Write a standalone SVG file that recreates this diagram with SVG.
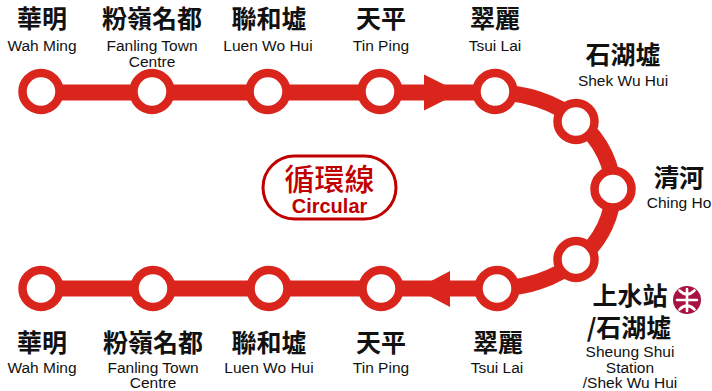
<svg xmlns="http://www.w3.org/2000/svg" width="712" height="391" viewBox="0 0 712 391">
<style>
.line{fill:none;stroke:#da251d;stroke-width:16}
.arrow{fill:#da251d}
.stn{fill:#fff;stroke:#da251d;stroke-width:8.5}
.zh{font-family:"Noto Sans CJK TC","Noto Sans CJK SC",sans-serif;font-weight:bold;font-size:25px;fill:#111;text-anchor:middle}
.en{font-family:"Liberation Sans",Arial,sans-serif;font-size:15.5px;fill:#111;text-anchor:middle}
</style>
<rect width="712" height="391" fill="#fff"/>
<g id="connectors">
<path class="line" d="M41,92.5 H495 A118,98 0 0 1 495,288.5 H41"/>
<polygon class="arrow" points="424,74.5 460,92.5 424,110.5"/>
<polygon class="arrow" points="450,271 416,289 450,307"/>
</g>
<g id="legend">
<rect x="263" y="156" width="133" height="63" rx="31.5" fill="#fff" stroke="#c00000" stroke-width="3"/>
<text x="329.5" y="190" font-family="'Noto Sans CJK TC','Noto Sans CJK SC',sans-serif" font-weight="500" font-size="30" fill="#c00000" text-anchor="middle">循環線</text>
<text x="329.5" y="213" font-family="'Liberation Sans',Arial,sans-serif" font-weight="bold" font-size="20" fill="#c00000" text-anchor="middle">Circular</text>
</g>
<g id="wah-ming-top"><circle class="stn" cx="41" cy="91.5" r="18.5"/><text class="zh" x="42" y="28">華明</text><text class="en" x="42" y="51">Wah Ming</text></g>
<g id="fanling-top"><circle class="stn" cx="152" cy="91.5" r="18.5"/><text class="zh" x="152" y="28">粉嶺名都</text><text class="en" x="152" y="51">Fanling Town</text><text class="en" x="152" y="67">Centre</text></g>
<g id="luen-wo-top"><circle class="stn" cx="268" cy="91.5" r="18.5"/><text class="zh" x="269" y="28">聯和墟</text><text class="en" x="268" y="51">Luen Wo Hui</text></g>
<g id="tin-ping-top"><circle class="stn" cx="380" cy="91.5" r="18.5"/><text class="zh" x="381" y="28">天平</text><text class="en" x="381" y="51">Tin Ping</text></g>
<g id="tsui-lai-top"><circle class="stn" cx="495" cy="91.5" r="18.5"/><text class="zh" x="495" y="28">翠麗</text><text class="en" x="495" y="51">Tsui Lai</text></g>
<g id="shek-wu-hui"><circle class="stn" cx="576" cy="121.5" r="18.5"/><text class="zh" x="623" y="64">石湖墟</text><text class="en" x="623" y="86">Shek Wu Hui</text></g>
<g id="ching-ho"><circle class="stn" cx="613" cy="189" r="18.5"/><text class="zh" x="679" y="187">清河</text><text class="en" x="679" y="208">Ching Ho</text></g>
<g id="sheung-shui"><circle class="stn" cx="576" cy="259.5" r="18.5"/>
<text class="zh" x="630" y="305">上水站</text>
<g id="mtr-logo"><circle cx="687" cy="300" r="14" fill="#a8133f"/>
<path d="M687,289 V311 M677,300 H697 M679.5,290.5 Q687,298 694.5,290.5 M679.5,309.5 Q687,302 694.5,309.5" fill="none" stroke="#fff" stroke-width="2.6" stroke-linecap="round"/></g>
<text class="zh" x="629" y="337">/石湖墟</text><text class="en" x="630" y="357">Sheung Shui</text><text class="en" x="630" y="373">Station</text><text class="en" x="630" y="388">/Shek Wu Hui</text></g>
<g id="tsui-lai-bottom"><circle class="stn" cx="497" cy="288.5" r="18.5"/><text class="zh" x="498" y="352">翠麗</text><text class="en" x="497" y="373">Tsui Lai</text></g>
<g id="tin-ping-bottom"><circle class="stn" cx="381" cy="288.5" r="18.5"/><text class="zh" x="381" y="352">天平</text><text class="en" x="381" y="373">Tin Ping</text></g>
<g id="luen-wo-bottom"><circle class="stn" cx="269" cy="288.5" r="18.5"/><text class="zh" x="269" y="352">聯和墟</text><text class="en" x="269" y="373">Luen Wo Hui</text></g>
<g id="fanling-bottom"><circle class="stn" cx="153" cy="288.5" r="18.5"/><text class="zh" x="153" y="352">粉嶺名都</text><text class="en" x="153" y="373">Fanling Town</text><text class="en" x="153" y="388">Centre</text></g>
<g id="wah-ming-bottom"><circle class="stn" cx="41" cy="288.5" r="18.5"/><text class="zh" x="42" y="352">華明</text><text class="en" x="42" y="373">Wah Ming</text></g>
</svg>
